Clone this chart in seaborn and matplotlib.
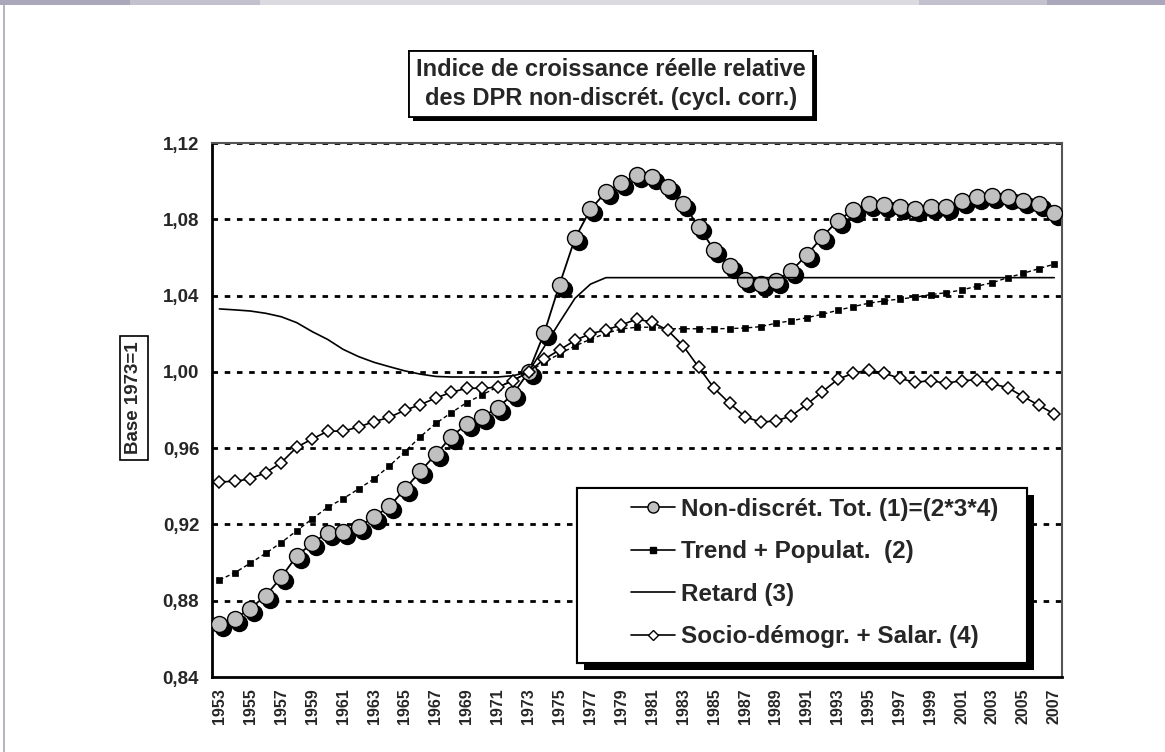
import numpy as np
import pandas as pd
import matplotlib
matplotlib.use('Agg')
import matplotlib.pyplot as plt
import matplotlib.patheffects as pe
import matplotlib.transforms as mtransforms
from matplotlib.lines import Line2D
from matplotlib.patches import Rectangle
import seaborn as sns

# Years on the category axis
years = list(range(1953, 2008))

# (1) Non-discrét. Tot. = (2*3*4)
non_discret_tot = [0.8677, 0.8706, 0.8759, 0.8827, 0.8923, 0.9035, 0.9101, 0.9157, 0.9162, 0.9188,
                   0.9238, 0.9295, 0.9386, 0.9479, 0.9568, 0.9660, 0.9727, 0.9764, 0.9811, 0.9884,
                   1.0000, 1.0202, 1.0458, 1.0700, 1.0852, 1.0943, 1.0989, 1.1032, 1.1020, 1.0971,
                   1.0880, 1.0761, 1.0639, 1.0555, 1.0482, 1.0461, 1.0478, 1.0531, 1.0613, 1.0709,
                   1.0793, 1.0849, 1.0880, 1.0877, 1.0863, 1.0854, 1.0866, 1.0866, 1.0898, 1.0918,
                   1.0922, 1.0918, 1.0898, 1.0880, 1.0831]

# (2) Trend + Populat.
trend_popul = [0.8909, 0.8947, 0.8997, 0.9049, 0.9105, 0.9167, 0.9229, 0.9290, 0.9335, 0.9386,
               0.9439, 0.9507, 0.9582, 0.9660, 0.9730, 0.9786, 0.9839, 0.9880, 0.9921, 0.9955,
               1.0000, 1.0050, 1.0094, 1.0136, 1.0171, 1.0202, 1.0225, 1.0234, 1.0234, 1.0226,
               1.0226, 1.0226, 1.0226, 1.0227, 1.0230, 1.0237, 1.0255, 1.0268, 1.0284, 1.0302,
               1.0323, 1.0342, 1.0360, 1.0372, 1.0382, 1.0391, 1.0405, 1.0415, 1.0429, 1.0449,
               1.0468, 1.0494, 1.0517, 1.0541, 1.0565]

# (3) Retard
retard = [1.0330, 1.0325, 1.0319, 1.0307, 1.0289, 1.0258, 1.0211, 1.0170, 1.0118, 1.0080,
          1.0050, 1.0027, 1.0005, 0.9988, 0.9976, 0.9973, 0.9973, 0.9973, 0.9973, 0.9980,
          1.0000, 1.0130, 1.0260, 1.0386, 1.0460, 1.0494, 1.0494, 1.0494, 1.0494, 1.0494,
          1.0494, 1.0494, 1.0494, 1.0494, 1.0494, 1.0494, 1.0494, 1.0494, 1.0494, 1.0494,
          1.0494, 1.0494, 1.0494, 1.0494, 1.0494, 1.0494, 1.0494, 1.0494, 1.0494, 1.0494,
          1.0494, 1.0494, 1.0494, 1.0494, 1.0494]

# (4) Socio-démogr. + Salar.
socio_demo = [0.9423, 0.9426, 0.9439, 0.9472, 0.9524, 0.9605, 0.9648, 0.9689, 0.9689, 0.9711,
              0.9739, 0.9762, 0.9799, 0.9828, 0.9863, 0.9893, 0.9914, 0.9914, 0.9919, 0.9954,
              1.0000, 1.0066, 1.0115, 1.0165, 1.0200, 1.0220, 1.0246, 1.0277, 1.0260, 1.0218,
              1.0136, 1.0024, 0.9914, 0.9835, 0.9765, 0.9736, 0.9743, 0.9769, 0.9830, 0.9896,
              0.9961, 0.9993, 1.0010, 0.9993, 0.9966, 0.9945, 0.9954, 0.9940, 0.9954, 0.9958,
              0.9937, 0.9917, 0.9870, 0.9825, 0.9779]

legend_labels = ['Non-discrét. Tot. (1)=(2*3*4)', 'Trend + Populat.  (2)',
                 'Retard (3)', 'Socio-démogr. + Salar. (4)']
y_ticks = [0.84, 0.88, 0.92, 0.96, 1.00, 1.04, 1.08, 1.12]

df = pd.DataFrame({'pos': np.arange(len(years)), 'year': years,
                   'tot': non_discret_tot, 'trend': trend_popul,
                   'retard': retard, 'socio': socio_demo})

sns.set_style('white')
plt.rcParams['font.family'] = ['Liberation Sans', 'DejaVu Sans']
plt.rcParams['font.weight'] = 'bold'

W, H = 1165, 752
fig = plt.figure(figsize=(W / 100, H / 100), dpi=100)
ax = fig.add_axes([211.7 / W, 1 - 677 / H, (1062 - 211.7) / W, (677 - 143) / H])

# decorative page frame (top band + left rule)
for x0, x1, c in [(0, 130, '#aaa7ba'), (130, 260, '#c4c1cf'), (260, 919, '#dcdae1'),
                  (919, 1047, '#c4c1cf'), (1047, W, '#aaa7ba')]:
    fig.patches.append(Rectangle((x0 / W, 1 - 5 / H), (x1 - x0) / W, 5 / H,
                                 transform=fig.transFigure, color=c, lw=0))
fig.patches.append(Rectangle((3 / W, 0), 2 / W, 1 - 5 / H, transform=fig.transFigure,
                             color='#b7b4c6', lw=0))

# gridlines
for yv in y_ticks[1:]:
    ax.axhline(yv, color='black', lw=2.0, ls=(0, (2.0, 2.4)), zorder=1)

# series 1 with drop shadow
shadow = ax.transData + mtransforms.ScaledTranslation(4 / 100, -4 / 100, fig.dpi_scale_trans)
ax.plot(df['pos'], df['tot'], 'o', ms=11.5, color='black', transform=shadow, zorder=2)
sns.lineplot(data=df, x='pos', y='tot', ax=ax, color='black', lw=1.3, marker='o',
             markersize=11.5, markerfacecolor='#c0c0c0', markeredgecolor='black',
             markeredgewidth=1.0, zorder=3)
sns.lineplot(data=df, x='pos', y='trend', ax=ax, color='black', lw=1.0, ls=(0, (3, 2)),
             marker='s', markersize=5, markerfacecolor='black', markeredgecolor='black',
             markeredgewidth=0.5, zorder=3)
sns.lineplot(data=df, x='pos', y='retard', ax=ax, color='black', lw=1.2, zorder=3)
sns.lineplot(data=df, x='pos', y='socio', ax=ax, color='black', lw=1.2, marker='D',
             markersize=6.5, markerfacecolor='white', markeredgecolor='black',
             markeredgewidth=1.1, zorder=4)

ax.set_xlim(-0.5, len(years) - 0.5)
ax.set_ylim(0.84, 1.12)
ax.set_xlabel('')
ax.set_ylabel('')

ax.set_yticks(y_ticks)
ax.set_yticklabels([f'{v:.2f}'.replace('.', ',') for v in y_ticks], fontsize=13.5,
                   fontweight='bold')
ax.set_xticks(np.arange(0, len(years), 2))
ax.set_xticklabels([str(y) for y in years[::2]], rotation=90, fontsize=11.5,
                   fontweight='bold')
ax.set_xticks(np.arange(-0.5, len(years), 1), minor=True)
ax.tick_params(axis='x', which='major', length=0, pad=8)
ax.tick_params(axis='x', which='minor', length=5, width=1.2, direction='out', color='black')
ax.tick_params(axis='y', which='major', length=5, width=1.5, direction='out', color='black',
               pad=4)

for side in ['left', 'bottom']:
    ax.spines[side].set_color('black')
    ax.spines[side].set_linewidth(2)
for side in ['top', 'right']:
    ax.spines[side].set_color('#555555')
    ax.spines[side].set_linewidth(1.5)

# legend box with shadow
leg_box = Rectangle((577 / W, 1 - 663 / H), (1027 - 577) / W, (663 - 488) / H,
                    transform=fig.transFigure, fc='white', ec='black', lw=1.5, zorder=5)
leg_box.set_path_effects([pe.withSimplePatchShadow(offset=(5, -5), shadow_rgbFace='black',
                                                   alpha=1), pe.Normal()])
fig.patches.append(leg_box)

handles = [
    Line2D([], [], color='black', lw=1.2, marker='o', ms=8, mfc='#c0c0c0', mec='black'),
    Line2D([], [], color='black', lw=1.2, marker='s', ms=4.5, mfc='black', mec='black'),
    Line2D([], [], color='black', lw=1.2),
    Line2D([], [], color='black', lw=1.2, marker='D', ms=5.5, mfc='white', mec='black'),
]
leg = fig.legend(handles, legend_labels, loc='upper left',
                 bbox_to_anchor=(631 / W, 1 - 498 / H), frameon=False, fontsize=17.5,
                 handlelength=1.8, handletextpad=0.25, labelspacing=0.8, borderpad=0,
                 borderaxespad=0)
for t in leg.get_texts():
    t.set_fontweight('bold')
leg.set_zorder(6)

# title box
title = fig.text(611 / W, 1 - 84 / H,
                 'Indice de croissance réelle relative\ndes DPR non-discrét. (cycl. corr.)',
                 ha='center', va='center', fontsize=17, fontweight='bold', linespacing=1.3,
                 bbox=dict(boxstyle='square,pad=0.3', fc='white', ec='black', lw=1.3))
title.get_bbox_patch().set_path_effects([
    pe.withSimplePatchShadow(offset=(3, -3), shadow_rgbFace='black', alpha=1), pe.Normal()])

# y-axis label box
fig.text(134 / W, 1 - 398 / H, 'Base 1973=1', rotation=90, ha='center', va='center',
         fontsize=13.5, fontweight='bold',
         bbox=dict(boxstyle='square,pad=0.3', fc='white', ec='black', lw=1.2))

fig.savefig('out.png', dpi=100)
